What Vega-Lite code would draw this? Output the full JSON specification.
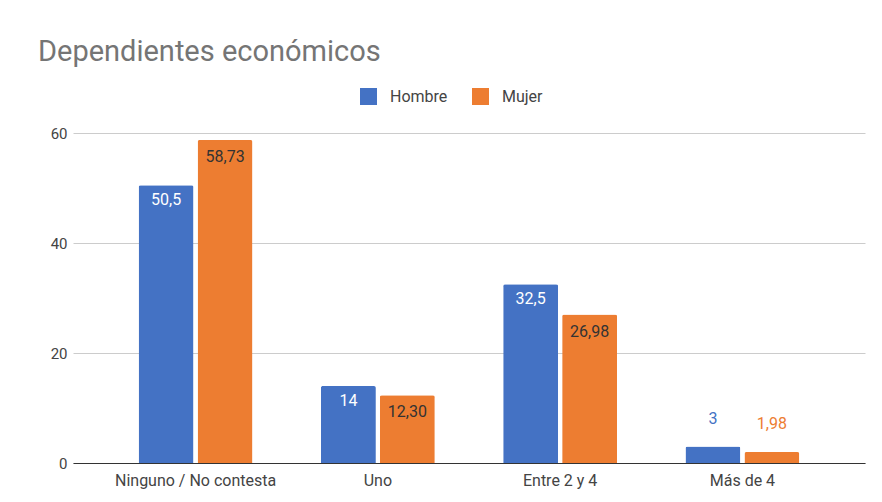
{
  "$schema": "https://vega.github.io/schema/vega-lite/v6.json",
  "width": 792,
  "height": 330,
  "autosize": "none",
  "padding": {"left": 73, "top": 133, "right": 17, "bottom": 39},
  "background": "white",
  "config": {
    "font": "Roboto",
    "view": {"stroke": null}
  },
  "title": {
    "text": "Dependientes económicos",
    "anchor": "start",
    "frame": "group",
    "dx": -35,
    "offset": 21,
    "fontSize": 29,
    "fontWeight": "normal",
    "color": "#757575",
    "font": "Roboto"
  },
  "data": {
    "values": [
      {"categoria": "Ninguno / No contesta", "sexo": "Hombre", "valor": 50.5, "etiqueta": "50,5"},
      {"categoria": "Ninguno / No contesta", "sexo": "Mujer", "valor": 58.73, "etiqueta": "58,73"},
      {"categoria": "Uno", "sexo": "Hombre", "valor": 14, "etiqueta": "14"},
      {"categoria": "Uno", "sexo": "Mujer", "valor": 12.3, "etiqueta": "12,30"},
      {"categoria": "Entre 2 y 4", "sexo": "Hombre", "valor": 32.5, "etiqueta": "32,5"},
      {"categoria": "Entre 2 y 4", "sexo": "Mujer", "valor": 26.98, "etiqueta": "26,98"},
      {"categoria": "Más de 4", "sexo": "Hombre", "valor": 3, "etiqueta": "3"},
      {"categoria": "Más de 4", "sexo": "Mujer", "valor": 1.98, "etiqueta": "1,98"}
    ]
  },
  "encoding": {
    "x": {
      "field": "categoria",
      "type": "nominal",
      "sort": ["Ninguno / No contesta", "Uno", "Entre 2 y 4", "Más de 4"],
      "scale": {"paddingInner": 0.375, "paddingOuter": 0.36},
      "axis": {
        "title": null,
        "labelAngle": 0,
        "labelFontSize": 16,
        "labelColor": "#444444",
        "labelPadding": 9,
        "ticks": false,
        "domainColor": "#333333",
        "domainWidth": 1.2,
        "grid": false
      }
    },
    "xOffset": {
      "field": "sexo",
      "type": "nominal",
      "sort": ["Hombre", "Mujer"],
      "scale": {"paddingInner": 0.068}
    },
    "y": {
      "field": "valor",
      "type": "quantitative",
      "scale": {"domain": [0, 60], "nice": false},
      "axis": {
        "title": null,
        "values": [0, 20, 40, 60],
        "labelFontSize": 15,
        "labelColor": "#444444",
        "labelPadding": 6,
        "ticks": false,
        "domain": false,
        "gridColor": "#cccccc"
      }
    }
  },
  "layer": [
    {
      "mark": {"type": "bar", "cornerRadiusTopLeft": 2, "cornerRadiusTopRight": 2},
      "encoding": {
        "color": {
          "field": "sexo",
          "type": "nominal",
          "sort": ["Hombre", "Mujer"],
          "scale": {"range": ["#4472c4", "#ed7d31"]},
          "legend": {
            "title": null,
            "orient": "none",
            "direction": "horizontal",
            "legendX": 287,
            "legendY": -45,
            "symbolType": "square",
            "symbolSize": 289,
            "symbolStrokeWidth": 0,
            "symbolOpacity": 1,
            "labelFontSize": 16,
            "labelColor": "#444444",
            "labelOffset": 13,
            "columnPadding": 24
          }
        }
      }
    },
    {
      "transform": [{"filter": "datum.valor >= 5 && datum.sexo == 'Hombre'"}],
      "mark": {"type": "text", "dy": 15, "fontSize": 16, "fill": "white", "baseline": "middle"},
      "encoding": {"text": {"field": "etiqueta"}}
    },
    {
      "transform": [{"filter": "datum.valor >= 5 && datum.sexo == 'Mujer'"}],
      "mark": {"type": "text", "dy": 17, "fontSize": 16, "fill": "#333333", "baseline": "middle"},
      "encoding": {"text": {"field": "etiqueta"}}
    },
    {
      "transform": [{"filter": "datum.valor < 5"}],
      "mark": {"type": "text", "dy": -28, "fontSize": 16, "baseline": "middle"},
      "encoding": {
        "text": {"field": "etiqueta"},
        "color": {"field": "sexo", "type": "nominal", "sort": ["Hombre", "Mujer"], "legend": null}
      }
    }
  ]
}
